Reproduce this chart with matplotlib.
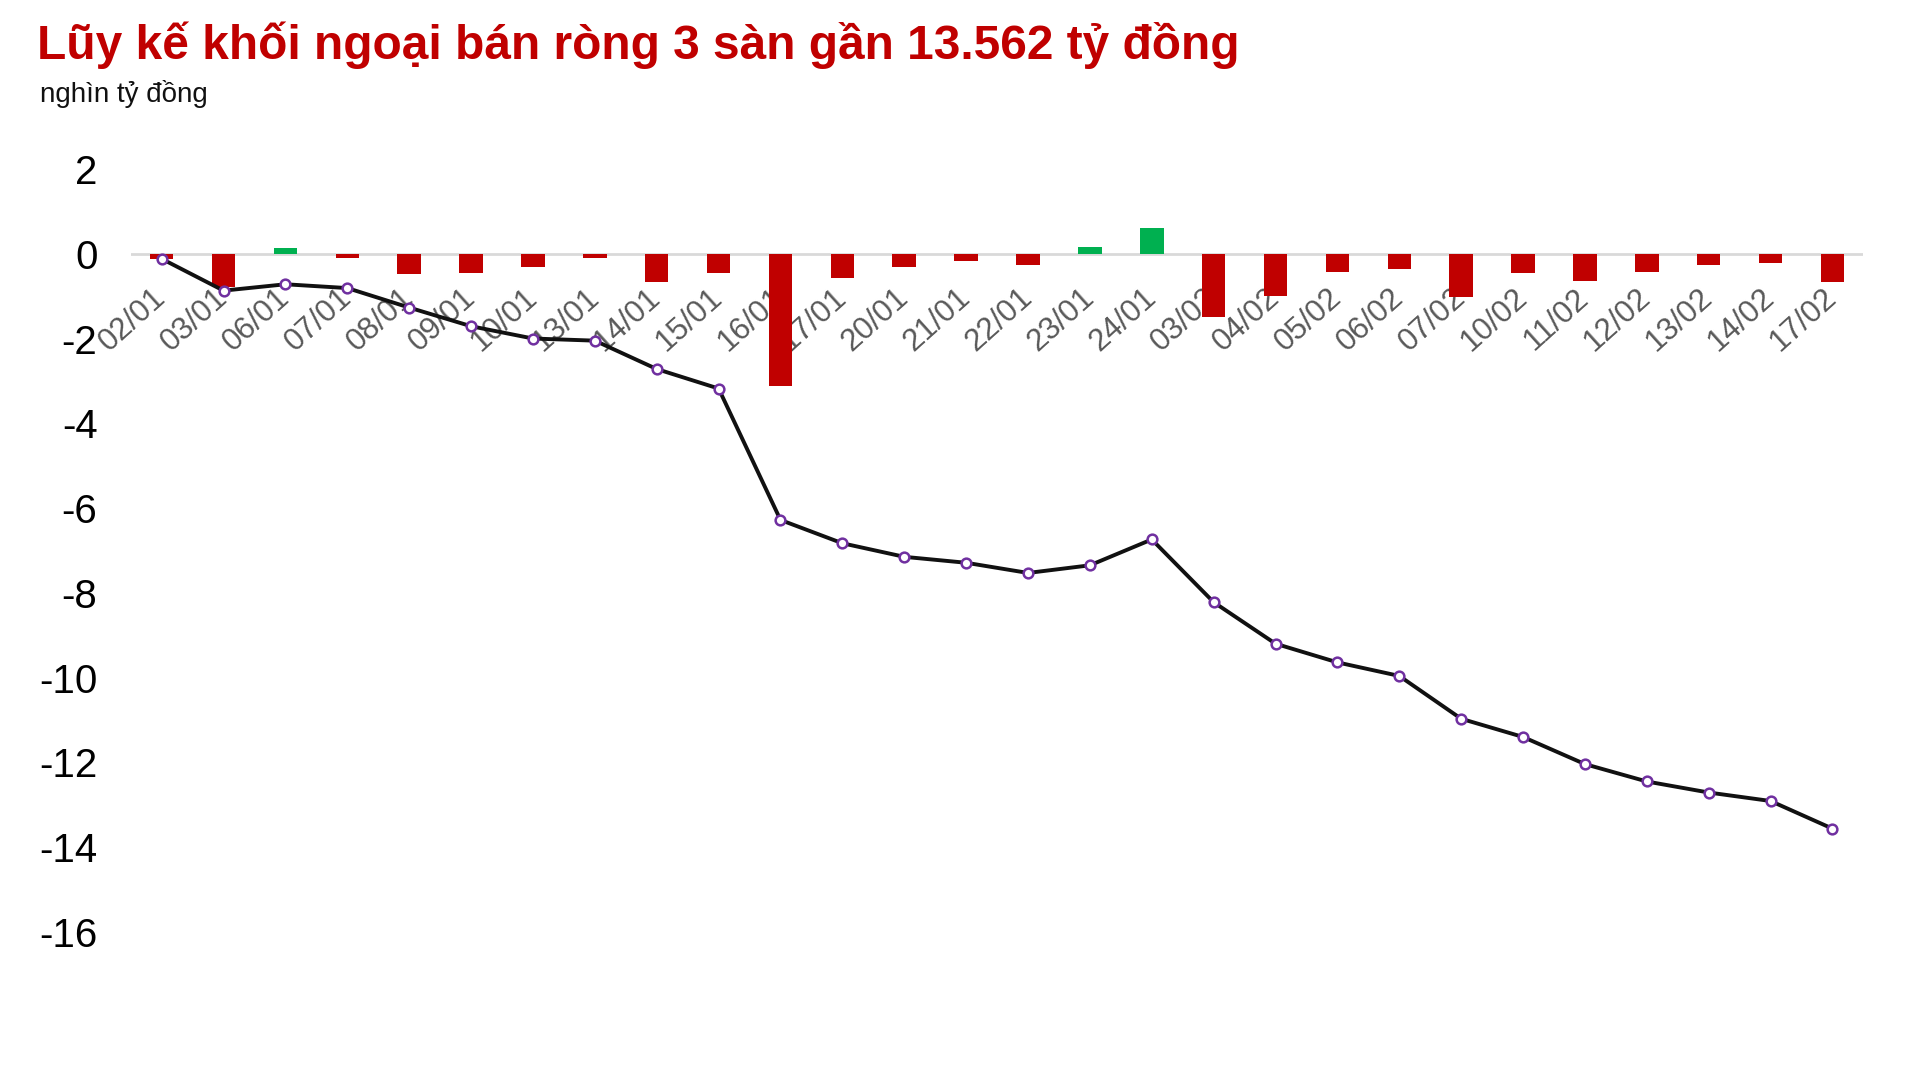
import matplotlib
matplotlib.use("Agg")
import matplotlib.pyplot as plt
import numpy as np

dates = ["02/01", "03/01", "06/01", "07/01", "08/01", "09/01", "10/01", "13/01", "14/01",
         "15/01", "16/01", "17/01", "20/01", "21/01", "22/01", "23/01", "24/01",
         "03/02", "04/02", "05/02", "06/02", "07/02", "10/02", "11/02", "12/02", "13/02",
         "14/02", "17/02"]
daily_net = [-0.12, -0.78, 0.13, -0.09, -0.47, -0.45, -0.31, -0.09, -0.66,
             -0.45, -3.11, -0.57, -0.31, -0.17, -0.26, 0.16, 0.61,
             -1.49, -0.99, -0.42, -0.35, -1.01, -0.45, -0.64, -0.42, -0.26,
             -0.21, -0.66]
cumulative = [-0.12, -0.87, -0.72, -0.81, -1.27, -1.71, -2.00, -2.05, -2.72,
              -3.18, -6.28, -6.83, -7.15, -7.29, -7.53, -7.35, -6.74,
              -8.22, -9.20, -9.64, -9.96, -10.97, -11.40, -12.04, -12.45, -12.71,
              -12.91, -13.562]
yticks = [2, 0, -2, -4, -6, -8, -10, -12, -14, -16]

plt.rcParams['font.family'] = ['Liberation Sans', 'DejaVu Sans']

fig = plt.figure(figsize=(19.23, 10.88), dpi=100)
ax = fig.add_axes([0.068, 0.1434, 0.901, 0.7013])

x = np.arange(len(dates))
colors = ['#00B050' if v > 0 else '#C00000' for v in daily_net]
ax.bar(x, daily_net, width=0.38, color=colors, zorder=2)
ax.axhline(0, color='#D9D9D9', lw=2, zorder=1)
ax.plot(x, cumulative, color='#111111', lw=2.8, zorder=3,
        marker='o', markersize=7, markerfacecolor='white',
        markeredgecolor='#7030A0', markeredgewidth=1.8)

ax.set_xlim(-0.5, len(dates) - 0.5)
ax.set_ylim(-16, 2)
ax.set_yticks(yticks)
ax.set_yticklabels([str(v) for v in yticks], fontsize=29)
for s in ax.spines.values():
    s.set_visible(False)
ax.spines['bottom'].set_position(('data', 0))
ax.set_xticks(x)
ax.set_xticklabels(dates, rotation=42, ha='right', va='center', rotation_mode='anchor',
                   fontsize=22.5, color='#595959')
ax.tick_params(axis='x', length=0, pad=29)
ax.tick_params(axis='y', length=0, pad=24)

fig.text(0.0195, 0.958, "Lũy kế khối ngoại bán ròng 3 sàn gần 13.562 tỷ đồng",
         fontsize=34.5, fontweight='bold', color='#C00000', va='center', ha='left')
fig.text(0.021, 0.914, "nghìn tỷ đồng", fontsize=20, color='#111111', va='center', ha='left')

fig.savefig("out.png", dpi=100)
